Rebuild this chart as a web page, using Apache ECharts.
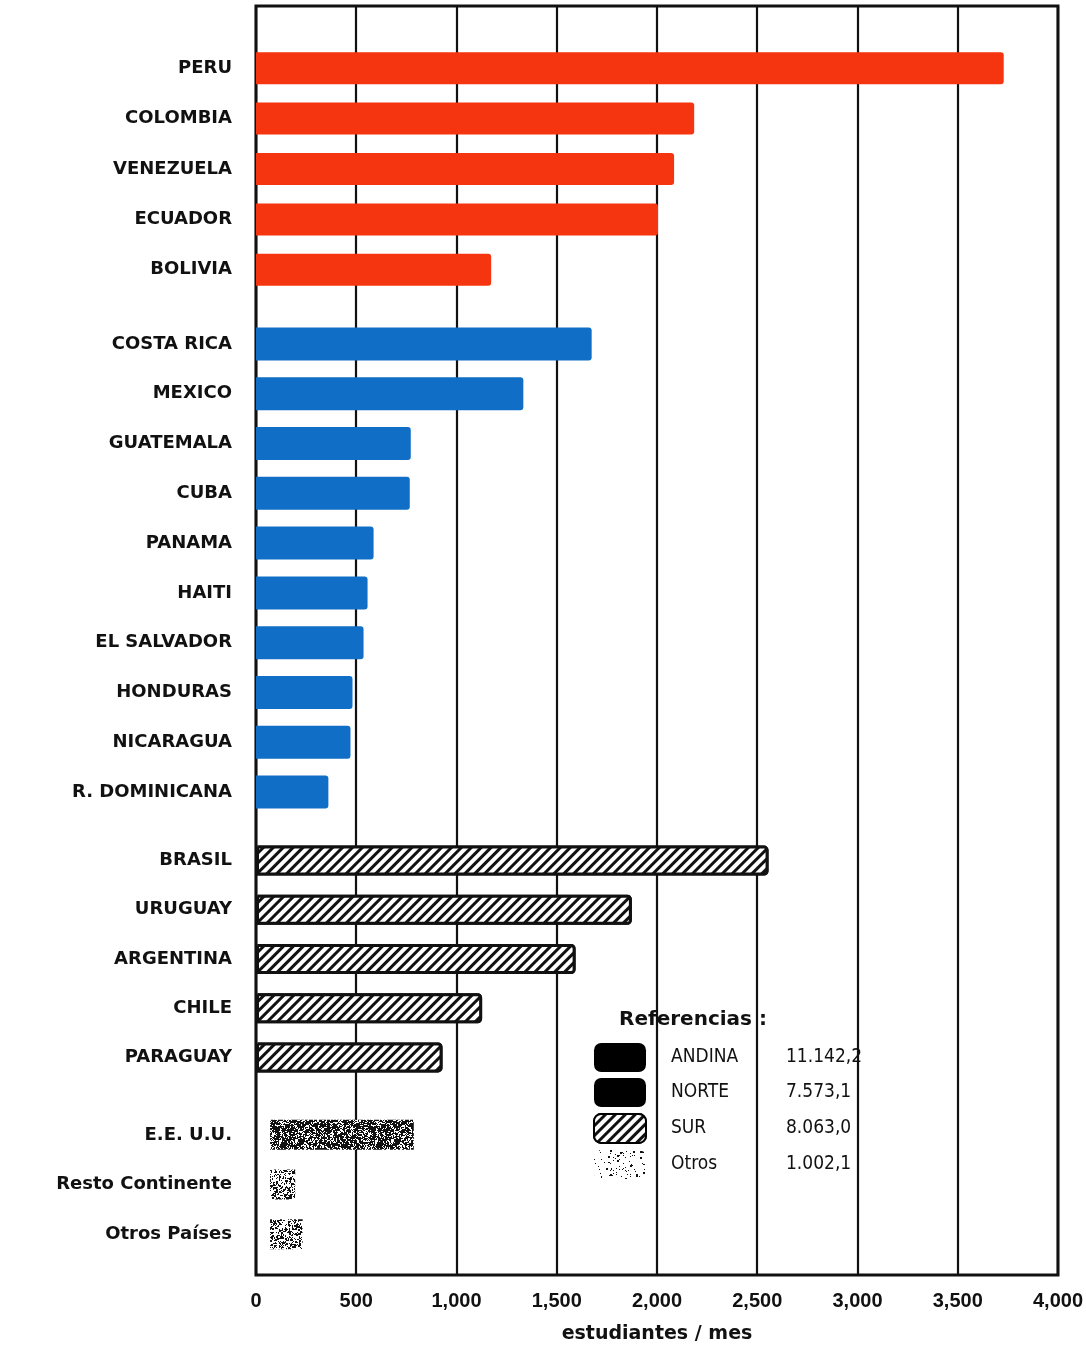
<!DOCTYPE html>
<html><head><meta charset="utf-8">
<script src="https://cdn.jsdelivr.net/npm/echarts@6/dist/echarts.min.js"></script>
<style>html,body{margin:0;padding:0;background:#fff}#c{width:1086px;height:1349px}</style>
</head><body><div id="c"></div>
<script>
// ---- DATA ----
const andinaCats = ['PERU', 'COLOMBIA', 'VENEZUELA', 'ECUADOR', 'BOLIVIA'];
const andinaVals = [3720, 2180, 2080, 2000, 1170];
const norteCats = ['COSTA RICA', 'MEXICO', 'GUATEMALA', 'CUBA', 'PANAMA', 'HAITI', 'EL SALVADOR', 'HONDURAS', 'NICARAGUA', 'R. DOMINICANA'];
const norteVals = [1670, 1330, 770, 765, 585, 555, 535, 480, 470, 360];
const surCats = ['BRASIL', 'URUGUAY', 'ARGENTINA', 'CHILE', 'PARAGUAY'];
const surVals = [2550, 1870, 1590, 1125, 928];
const otrosCats = ['E.E. U.U.', 'Resto Continente', 'Otros Países'];
const otrosStart = [70, 70, 70];
const otrosVals = [715, 125, 162];
const legendNames = ['ANDINA', 'NORTE', 'SUR', 'Otros'];
const legendTotals = ['11.142,2', '7.573,1', '8.063,0', '1.002,1'];
const xTickLabels = ['0', '500', '1,000', '1,500', '2,000', '2,500', '3,000', '3,500', '4,000'];
const xMin = 0, xMax = 4000, xStep = 500;

// ---- textures ----
function stipple(size, density, seed) {
  const c = document.createElement('canvas');
  c.width = size; c.height = size;
  const g = c.getContext('2d');
  g.fillStyle = '#fff'; g.fillRect(0, 0, size, size);
  g.fillStyle = '#111';
  let s = seed;
  const rnd = () => { s = (s * 1103515245 + 12345) % 2147483648; return s / 2147483648; };
  for (let y = 0; y < size; y++) for (let x = 0; x < size; x++) {
    const r = rnd();
    if (r < density) g.fillRect(x, y, 1, 1);
    if (r < density * 0.15) g.fillRect(x, y, 2, 2);
  }
  return c;
}
const denseTex = stipple(96, 0.58, 12345);
const sparseTex = stipple(96, 0.3, 777);
const legendTex = stipple(96, 0.05, 4242);

const RED = '#f5350f', BLUE = '#106ec6', INK = '#111';
const L = 256, R = 26;
const labelFont = { color: INK, fontFamily: 'DejaVu Sans', fontWeight: 'bold', fontSize: 18, margin: 24 };

const groups = [
  { top: 43, height: 252, cats: andinaCats },
  { top: 319, height: 498, cats: norteCats },
  { top: 836, height: 246, cats: surCats },
  { top: 1110, height: 149, cats: otrosCats }
];

const grids = [{ left: L, right: R, top: 6, bottom: 71, show: true, borderColor: INK, borderWidth: 3, backgroundColor: 'transparent' }];
const xAxes = [{
  gridIndex: 0, type: 'value', min: xMin, max: xMax, interval: xStep,
  axisLine: { show: false }, axisTick: { show: false },
  splitLine: { show: true, lineStyle: { color: INK, width: 2.2 } },
  axisLabel: { margin: 16, color: INK, fontFamily: 'Liberation Sans Narrow, Liberation Sans', fontWeight: 'bold', fontSize: 20,
    formatter: v => xTickLabels[Math.round((v - xMin) / xStep)] },
  name: 'estudiantes / mes', nameLocation: 'middle', nameGap: 50,
  nameTextStyle: { color: INK, fontFamily: 'DejaVu Sans', fontWeight: 'bold', fontSize: 19 }
}];
const yAxes = [{ gridIndex: 0, type: 'value', show: false }];
groups.forEach((g, i) => {
  grids.push({ left: L, right: R, top: g.top, height: g.height, show: false });
  xAxes.push({ gridIndex: i + 1, type: 'value', min: xMin, max: xMax, show: false });
  yAxes.push({ gridIndex: i + 1, type: 'category', inverse: true, data: g.cats,
    axisLine: { show: false }, axisTick: { show: false }, splitLine: { show: false },
    axisLabel: labelFont });
});

const option = {
  animation: false,
  backgroundColor: '#fff',
  title: [{ text: 'Referencias :', left: 614, top: 1005,
    textStyle: { color: INK, fontFamily: 'DejaVu Sans', fontWeight: 'bold', fontSize: 20 } }],
  grid: grids, xAxis: xAxes, yAxis: yAxes,
  legend: {
    orient: 'vertical', left: 593, top: 1043, padding: 0, itemWidth: 52, itemHeight: 29, itemGap: 6,
    selectedMode: false, icon: 'roundRect',
    data: [
      { name: 'ANDINA', itemStyle: { color: '#000' } },
      { name: 'NORTE', itemStyle: { color: '#000' } },
      { name: 'SUR', itemStyle: { color: '#000', borderColor: '#000', borderWidth: 2 } },
      { name: 'Otros', itemStyle: { color: { image: legendTex, repeat: 'repeat' }, borderWidth: 0 } }
    ],
    formatter: name => '{n|' + name + '}{v|' + legendTotals[legendNames.indexOf(name)] + '}',
    textStyle: {
      rich: {
        n: { width: 115, padding: [0, 0, 0, 20], fontFamily: 'DejaVu Sans Condensed, DejaVu Sans', fontSize: 19, color: INK },
        v: { fontFamily: 'DejaVu Sans Condensed, DejaVu Sans', fontSize: 19, color: INK }
      }
    }
  },
  series: [
    { name: 'ANDINA', type: 'bar', xAxisIndex: 1, yAxisIndex: 1, data: andinaVals, barWidth: 32,
      itemStyle: { color: RED, borderRadius: [0, 3, 3, 0] } },
    { name: 'NORTE', type: 'bar', xAxisIndex: 2, yAxisIndex: 2, data: norteVals, barWidth: 33,
      itemStyle: { color: BLUE, borderRadius: [0, 3, 3, 0] } },
    { name: 'SUR', type: 'bar', xAxisIndex: 3, yAxisIndex: 3, data: surVals, barWidth: 30,
      itemStyle: { color: '#fff', borderColor: INK, borderWidth: 3, borderRadius: [0, 3, 3, 0],
        decal: { symbol: 'rect', symbolSize: 1, dashArrayX: [1, 0], dashArrayY: [3, 3.8], rotation: -Math.PI / 4, color: INK, backgroundColor: '#fff' } } },
    { name: 'base', type: 'bar', stack: 'o', xAxisIndex: 4, yAxisIndex: 4, data: otrosStart, barWidth: 30,
      itemStyle: { color: 'transparent' }, silent: true },
    { name: 'Otros', type: 'bar', stack: 'o', xAxisIndex: 4, yAxisIndex: 4, barWidth: 30,
      data: otrosVals.map((v, i) => i === 0 ? v : { value: v, itemStyle: { color: { image: sparseTex, repeat: 'repeat' } } }),
      itemStyle: { color: { image: denseTex, repeat: 'repeat' } } }
  ]
};
echarts.init(document.getElementById('c'), null, { renderer: 'canvas' }).setOption(option);
</script></body></html>
